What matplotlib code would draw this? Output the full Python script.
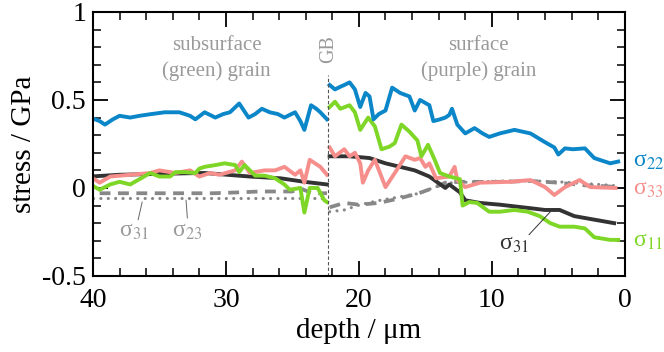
import matplotlib
matplotlib.use("Agg")
import matplotlib.pyplot as plt
import numpy as np

# ---------------- data ----------------
gb_depth = 22.3

s22_left_d = [40.2, 39.5, 39.1, 38.5, 38, 37.2, 36.5, 35.6, 34.6, 33.5, 32.7, 32.3, 31.6, 30.8, 30.2,
              29.7, 29.0, 28.3, 27.8, 27.3, 26.7, 26.1, 25.6, 24.8, 24.4, 24.1, 23.6, 23.2, 22.9, 22.4]
s22_left_v = [0.40, 0.38, 0.36, 0.39, 0.41, 0.40, 0.41, 0.42, 0.43, 0.43, 0.41, 0.39, 0.43, 0.40, 0.42,
              0.43, 0.48, 0.40, 0.42, 0.45, 0.43, 0.42, 0.40, 0.43, 0.38, 0.33, 0.47, 0.45, 0.43, 0.39]
s22_right_d = [22.2, 21.8, 21.4, 21.1, 20.7, 20.3, 19.9, 19.5, 19.2, 18.9, 18.5, 18.0, 17.5, 16.9, 16.2,
               15.8, 15.4, 14.7, 14.4, 13.9, 13.5, 13.2, 13.0, 12.6, 12.0, 11.3, 10.7, 10.2, 9.4, 8.3,
               7.1, 6.0, 5.3, 5.0, 4.5, 3.9, 3.0, 2.3, 1.1, 0.5]
s22_right_v = [0.585, 0.56, 0.575, 0.585, 0.60, 0.56, 0.46, 0.54, 0.52, 0.39, 0.42, 0.44, 0.57, 0.54, 0.52,
               0.44, 0.50, 0.47, 0.38, 0.39, 0.40, 0.415, 0.45, 0.36, 0.31, 0.34, 0.31, 0.29, 0.31, 0.33,
               0.31, 0.26, 0.23, 0.19, 0.225, 0.22, 0.225, 0.17, 0.14, 0.15]

s11_left_d = [40.2, 39.5, 38.7, 38, 37.2, 36.5, 35.7, 35, 34.2, 33.8, 33.1, 32.3, 32.0, 31.6, 30.8,
              30.1, 29.3, 29.0, 28.6, 27.8, 27.1, 26.3, 25.6, 25.2, 24.4, 24.1, 23.7, 23.1, 22.6, 22.4]
s11_left_v = [0.02, -0.01, 0.02, 0.035, 0.02, 0.05, 0.085, 0.065, 0.065, 0.09, 0.09, 0.085, 0.11, 0.12, 0.13,
              0.14, 0.13, 0.09, 0.13, 0.07, 0.07, 0.055, 0.02, -0.01, 0.0, -0.14, 0.0, 0.0, -0.07, -0.08]
s11_right_d = [22.2, 21.8, 21.4, 20.7, 20.3, 19.9, 19.3, 18.8, 18.3, 17.7, 17.3, 16.8, 16.2, 15.6, 15.3,
               14.8, 14.3, 13.9, 13.2, 12.4, 12.2, 11.7, 11.1, 10.2, 9.4, 8.3, 7.3, 6.4, 5.6, 4.9,
               3.8, 3.0, 2.3, 1.1, 0.5]
s11_right_v = [0.46, 0.49, 0.45, 0.47, 0.43, 0.33, 0.40, 0.35, 0.22, 0.235, 0.255, 0.36, 0.32, 0.27, 0.18,
               0.245, 0.16, 0.085, 0.065, 0.05, -0.10, -0.08, -0.085, -0.135, -0.135, -0.125, -0.135, -0.16, -0.20, -0.22,
               -0.22, -0.23, -0.28, -0.295, -0.295]

s33_left_d = [40.2, 39.5, 38.7, 37.2, 35.7, 35, 33.8, 32.7, 32, 31.2, 30.5, 29.3, 28.8, 28.2, 27.1,
              26.3, 25.6, 24.8, 24.4, 24.1, 23.7, 22.9, 22.4]
s33_left_v = [0.065, 0.03, 0.065, 0.075, 0.085, 0.10, 0.085, 0.10, 0.065, 0.085, 0.075, 0.10, 0.15, 0.085, 0.10,
              0.10, 0.12, 0.075, 0.10, 0.03, 0.16, 0.12, 0.075]
s33_right_d = [22.2, 21.8, 21.1, 20.7, 20.3, 19.9, 19.7, 19.3, 18.8, 18.0, 17.3, 16.5, 15.8, 15.4, 15.0,
               14.7, 14.2, 13.2, 12.8, 12.6, 12.0, 10.9, 8.6, 7.1, 6.0, 5.3, 4.5, 3.4, 2.6, 0.7]
s33_right_v = [0.23, 0.18, 0.22, 0.18, 0.20, 0.14, 0.03, 0.10, 0.16, 0.005, 0.085, 0.18, 0.16, 0.17, 0.12,
               0.14, 0.055, 0.065, 0.12, 0.045, 0.005, 0.03, 0.035, 0.045, 0.005, -0.04, 0.005, 0.045, 0.005, 0.0]

s31_left_d = [40.2, 38, 35, 32, 31.6, 28.2, 25.9, 24.1, 22.4]
s31_left_v = [0.065, 0.075, 0.08, 0.085, 0.085, 0.065, 0.055, 0.035, 0.02]
s31_right_d = [22.2, 20.7, 19.2, 18.0, 16.9, 15.8, 14.7, 13.5, 13.2, 12.4, 12.0, 10.9, 9.4, 7.1, 6.0,
               4.9, 3.8, 2.3, 0.8]
s31_right_v = [0.18, 0.18, 0.17, 0.14, 0.12, 0.10, 0.065, 0.0, 0.02, -0.025, -0.07, -0.085, -0.095, -0.115, -0.125,
               -0.125, -0.16, -0.18, -0.20]

dash_left_d = [39.5, 37, 35, 33, 31, 29, 27.5, 26, 25, 24.5, 23.5, 22.4]
dash_left_v = [-0.03, -0.03, -0.03, -0.03, -0.03, -0.025, -0.02, -0.02, -0.02, 0.0, -0.03, -0.03]
dash_right_d = [22.2, 21.1, 20, 18.5, 17, 15.5, 14.4, 13.5, 12.5, 11, 9, 7.1, 5, 3, 1.5, 0.5]
dash_right_v = [-0.11, -0.085, -0.095, -0.085, -0.06, -0.03, 0.0, 0.03, 0.035, 0.035, 0.035, 0.04, 0.03, 0.015, 0.01, 0.005]

dot_left_d = [40, 35, 30, 25, 22.4]
dot_left_v = [-0.057, -0.057, -0.057, -0.057, -0.057]
dot_right_d = [22.2, 21.1, 19.9, 18.4, 16.9, 15.4, 14.3, 13.0, 11, 9, 7, 5, 3, 1, 0.5]
dot_right_v = [-0.135, -0.125, -0.095, -0.07, -0.05, -0.03, 0.005, 0.03, 0.035, 0.04, 0.04, 0.035, 0.025, 0.015, 0.01]

x_ticks = [40, 30, 20, 10, 0]
y_ticks = [-0.5, 0, 0.5, 1]
y_tick_labels = ["-0.5", "0", "0.5", "1"]

# ---------------- styling ----------------
plt.rcParams['font.family'] = ['Liberation Serif', 'DejaVu Serif']
plt.rcParams['mathtext.fontset'] = 'stix'

c_blue = '#0b86c8'
c_green = '#7ed626'
c_pink = '#f68f8c'
c_black = '#333333'
c_gray = '#888888'
c_text_gray = '#9a9a9a'

fig = plt.figure(figsize=(6.64, 3.52), dpi=100)
ax = fig.add_axes([0.140, 0.216, 0.801, 0.750])

lw = 2.8
for d, v in [(dot_left_d, dot_left_v), (dot_right_d, dot_right_v)]:
    ax.plot(d, v, color=c_gray, lw=2.3, linestyle=(0, (0.01, 2.3)), dash_capstyle='round')
for d, v in [(dash_left_d, dash_left_v), (dash_right_d, dash_right_v)]:
    ax.plot(d, v, color=c_gray, lw=2.7, linestyle=(0, (2.9, 2.0)))
for d, v in [(s31_left_d, s31_left_v), (s31_right_d, s31_right_v)]:
    ax.plot(d, v, color=c_black, lw=lw)
for d, v in [(s33_left_d, s33_left_v), (s33_right_d, s33_right_v)]:
    ax.plot(d, v, color=c_pink, lw=lw)
for d, v in [(s11_left_d, s11_left_v), (s11_right_d, s11_right_v)]:
    ax.plot(d, v, color=c_green, lw=lw)
for d, v in [(s22_left_d, s22_left_v), (s22_right_d, s22_right_v)]:
    ax.plot(d, v, color=c_blue, lw=lw)

# grain boundary
ax.plot([gb_depth, gb_depth], [-0.5, 0.64], color='#555555', lw=0.8, linestyle=(0, (3, 2)))
ax.text(gb_depth - 0.05, 0.79, 'GB', rotation=90, ha='center', va='center', color=c_text_gray, fontsize=14.5)

ax.text(30.7, 0.81, 'subsurface', ha='center', va='center', color=c_text_gray, fontsize=15)
ax.text(30.7, 0.665, '(green) grain', ha='center', va='center', color=c_text_gray, fontsize=15)
ax.text(11.0, 0.81, 'surface', ha='center', va='center', color=c_text_gray, fontsize=15)
ax.text(11.0, 0.665, '(purple) grain', ha='center', va='center', color=c_text_gray, fontsize=15)

# right labels
ax.text(1.015, 0.15, 'σ$_{22}$', transform=ax.get_yaxis_transform(), color=c_blue, fontsize=17, va='center', ha='left')
ax.text(1.015, -0.01, 'σ$_{33}$', transform=ax.get_yaxis_transform(), color=c_pink, fontsize=17, va='center', ha='left')
ax.text(1.015, -0.305, 'σ$_{11}$', transform=ax.get_yaxis_transform(), color=c_green, fontsize=17, va='center', ha='left')

# in-plot labels with leaders
ax.text(8.35, -0.32, 'σ$_{31}$', color=c_black, fontsize=17, ha='center', va='center')
ax.plot([7.2, 5.6], [-0.265, -0.135], color=c_black, lw=0.7)
ax.text(36.9, -0.245, 'σ$_{31}$', color=c_text_gray, fontsize=17, ha='center', va='center')
ax.plot([36.6, 36.3], [-0.18, -0.08], color='#666666', lw=0.7)
ax.text(32.9, -0.245, 'σ$_{23}$', color=c_text_gray, fontsize=17, ha='center', va='center')
ax.plot([32.9, 33.0], [-0.17, -0.07], color='#666666', lw=0.7)

ax.set_xlim(40, 0)
ax.set_ylim(-0.5, 1)
ax.set_xticks(x_ticks)
ax.set_xticklabels([str(t) for t in x_ticks])
ax.set_xticks(np.arange(0, 41, 2), minor=True)
ax.set_yticks(y_ticks)
ax.set_yticklabels(y_tick_labels)
ax.set_yticks(np.arange(-0.5, 1.01, 0.1), minor=True)

ax.tick_params(axis='both', which='both', direction='in', top=True, right=True, colors='black')
ax.tick_params(axis='both', which='major', length=10.5, width=1.3, labelsize=20)
ax.tick_params(axis='x', which='major', pad=9)
ax.tick_params(axis='y', which='major', pad=5)
ax.tick_params(axis='both', which='minor', length=6, width=1.1)
for s in ax.spines.values():
    s.set_linewidth(1.5)

ax.set_xlabel('depth / μm', fontsize=21, labelpad=3)
ax.set_ylabel('stress / GPa', fontsize=21, labelpad=4)

fig.savefig('out.png', dpi=100)
